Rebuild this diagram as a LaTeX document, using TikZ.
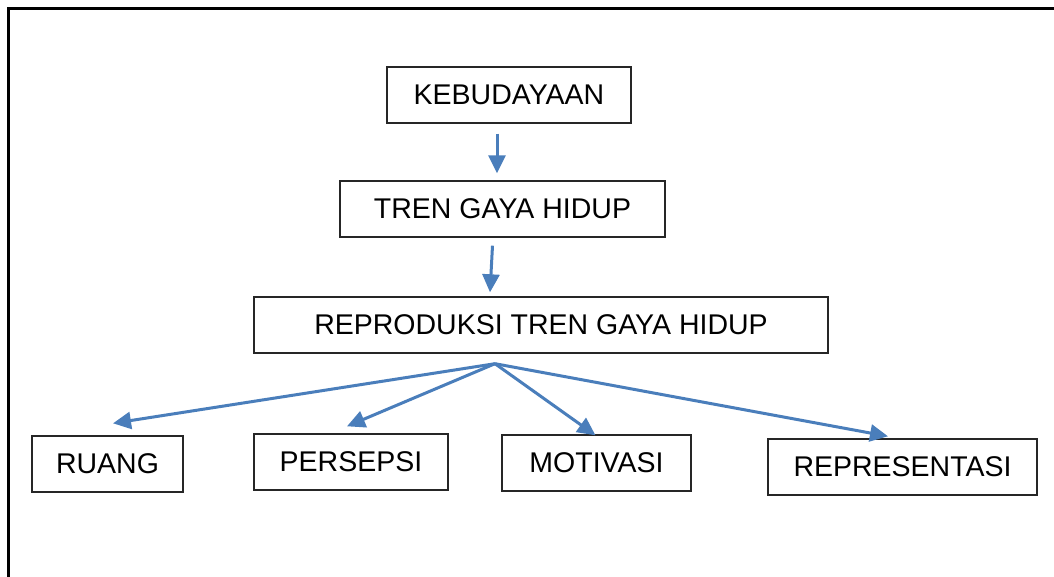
\documentclass[tikz,border=0pt]{standalone}
\usepackage{fontspec}
\setmainfont{Liberation Sans}
\usetikzlibrary{arrows.meta,calc}
\definecolor{arrowblue}{HTML}{4A7EBB}

\begin{document}
\begin{tikzpicture}
  [
    x=1pt, y=-1pt,
    box/.style =
      {draw=black!85, line width=1.4pt, rectangle, align=center, inner sep=0pt,
       minimum height=56pt, font=\fontsize{28.5}{32}\selectfont},
    barrow/.style =
      {->, >={Triangle[length=18pt, width=17pt]}, draw=arrowblue, line width=3pt}
  ]

\useasboundingbox (0,0) rectangle (1054,577);

% frame
\draw [line width=3pt] (8,577) -- (8,9) -- (1054,9);

\node[box, minimum width=244pt] (keb) at (509,95) {KEBUDAYAAN};
\node[box, minimum width=325pt] (tren) at (502.5,209) {TREN GAYA HIDUP};
\node[box, minimum width=574pt] (repro) at (541,325) {REPRODUKSI TREN GAYA HIDUP};

\node[box, minimum width=151pt] (ruang) at (107.5,464) {RUANG};
\node[box, minimum width=194pt] (persepsi) at (351,462) {PERSEPSI};
\node[box, minimum width=189pt] (motivasi) at (596.5,463) {MOTIVASI};
\node[box, minimum width=269pt] (repr) at (902.5,467) {REPRESENTASI};

\coordinate (hub) at ($(repro.south)+(-46,10)$);

\draw [barrow] ($(keb.south)+(-12,10)$) -- ($(tren.north)+(-5.5,-7)$);
\draw [barrow] ($(tren.south)+(-10,8)$) -- ($(repro.north)+(-51,-4)$);

\draw [barrow] (hub) -- ($(ruang.north)+(5.5,-12)$);
\draw [barrow] (hub) -- ($(persepsi.north)+(-4,-7)$);
\draw [barrow] (hub) -- ($(motivasi.north)+(-1,1)$);
\draw [barrow] (hub) -- ($(repr.north)+(-14.5,-2)$);
\end{tikzpicture}
\end{document}
